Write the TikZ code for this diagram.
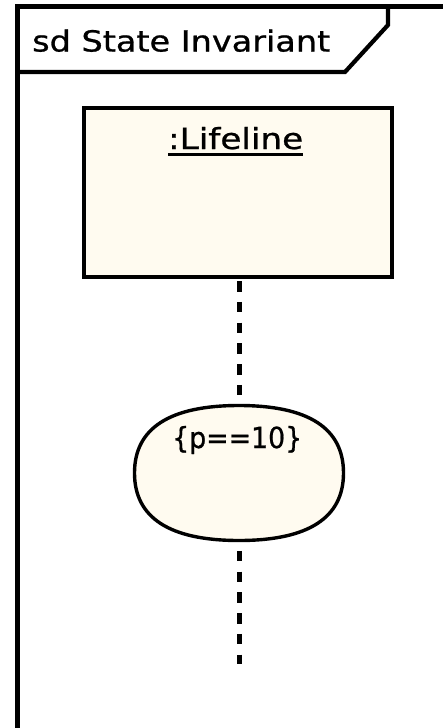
\documentclass[tikz,border=0pt]{standalone}
\usepackage{fontspec}
\usepackage{graphicx}
\setmainfont[FakeBold=0.8]{DejaVu Sans}
\definecolor{cream}{RGB}{255,251,240}
\begin{document}
\begin{tikzpicture}[x=1pt,y=-1pt,
  frameline/.style={line width=5pt},
  headline/.style={line width=4.2pt, line join=miter},
  lifebox/.style={draw, line width=4pt, fill=cream, inner sep=0pt,
    minimum width=308pt, minimum height=169pt},
  invarea/.style={inner sep=0pt, minimum width=209pt, minimum height=135pt},
  invline/.style={draw, line width=3.4pt, fill=cream},
  txt/.style={inner sep=0pt, font=\fontsize{29}{29}\selectfont},
  lifedash/.style={line width=5pt, dash pattern=on 10.5pt off 10.25pt}
]
\useasboundingbox (0,0) rectangle (443,728);
% frame
\draw[frameline] (17,728) -- (17,6) -- (443,6);
\draw[headline] (19,72) -- (345,72) -- (388,25) -- (388,6);
\node[txt, anchor=base west] (title) at (32,51.5) {\resizebox{298pt}{\height}{sd State Invariant}};
% lifeline head
\node[lifebox] (lifeline) at (237.5,192) {};
\node[txt, anchor=base west] (lname) at (168,149) {\resizebox{135pt}{\height}{:Lifeline}};
\draw[line width=3pt] ([yshift=-5pt]lname.base west) -- ([yshift=-5pt]lname.base east);
% lifeline
\node[invarea] (inv) at (239,473) {};
\coordinate (lend) at (239.5,664);
\draw[lifedash, shorten <=2.5pt] (lifeline.south -| lend) -- (lend);
% state invariant
\path[invline, shift={(inv.center)}]
  (104.5,0) .. controls (104.5,-44.8) and (69.4,-67.5) .. (0,-67.5)
  .. controls (-69.4,-67.5) and (-104.5,-44.8) .. (-104.5,0)
  .. controls (-104.5,44.8) and (-69.4,67.5) .. (0,67.5)
  .. controls (69.4,67.5) and (104.5,44.8) .. (104.5,0) -- cycle;
\node[txt, anchor=base west] (cond) at (172,448) {\resizebox{130pt}{\height}{\{p==10\}}};
\end{tikzpicture}
\end{document}
